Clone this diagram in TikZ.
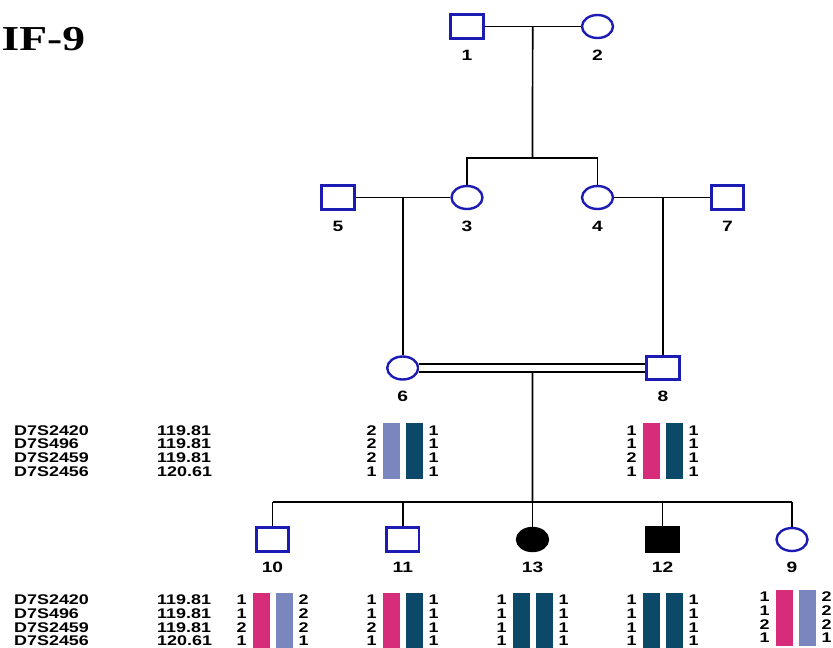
\documentclass[tikz,border=0pt]{standalone}
\usepackage{fontspec}
\setmainfont{Liberation Sans}[FakeStretch=1.28]
\newfontfamily\titlefont{Liberation Serif}[FakeStretch=1.3]
\usetikzlibrary{shapes.geometric,calc}
\definecolor{pedblue}{RGB}{28,28,180}
\definecolor{hpink}{RGB}{214,44,122}
\definecolor{hlav}{RGB}{122,134,190}
\definecolor{hdark}{RGB}{12,72,104}
\newcommand{\hapl}[6]{%
  \fill[#4] (#2-20,#3) rectangle (#2-3,#3+56);
  \fill[#5] (#2+3,#3) rectangle (#2+20,#3+56);
  \foreach \l/\r [count=\i from 0] in {#6} {
    \node[num] (#1l\i) at (#2-31,#3+7+13.7*\i) {\l};
    \node[num] (#1r\i) at (#2+31,#3+7+13.7*\i) {\r};
  }%
}
\begin{document}
\begin{tikzpicture}[x=1pt,y=-1pt,
  male/.style={draw=pedblue,line width=2.6pt,rectangle,minimum width=32.5pt,minimum height=23.5pt,inner sep=0pt},
  female/.style={draw=pedblue,line width=2.4pt,ellipse,minimum width=31pt,minimum height=23pt,inner sep=0pt},
  affm/.style={male,draw=black,fill=black},
  afff/.style={female,draw=black,fill=black},
  lbl/.style={font=\fontsize{15}{15}\selectfont\bfseries,inner sep=0pt},
  num/.style={font=\fontsize{14}{14}\selectfont\bfseries,inner sep=0pt},
  mk/.style={font=\fontsize{14}{14}\selectfont\bfseries,inner sep=0pt,anchor=west},
  pline/.style={line width=1.7pt}
]
\useasboundingbox (0,0) rectangle (833,648);
\clip (0,0) rectangle (833,648);

\node[font=\titlefont\fontsize{35}{35}\selectfont\bfseries,inner sep=0pt,anchor=west] (title) at (1.5,38.7) {IF-9};

% generation I
\node[male] (n1) at (467,26.5) {};
\node[female] (n2) at (597.5,26.5) {};
% generation II
\node[male] (n5) at (338,197.5) {};
\node[female] (n3) at (467,197.5) {};
\node[female] (n4) at (597.5,197.5) {};
\node[male] (n7) at (727.5,197.5) {};
% generation III
\node[female] (n6) at (402.7,368) {};
\node[male] (n8) at (663,368) {};
% generation IV
\node[male] (n10) at (272.5,539.5) {};
\node[male] (n11) at (402.8,539.5) {};
\node[afff] (n13) at (532.5,539.5) {};
\node[affm] (n12) at (662.5,539.5) {};
\node[female] (n9) at (792,539.5) {};

% labels
\foreach \n/\t in {n1/1,n2/2,n5/5,n3/3,n4/4,n7/7,n6/6,n8/8} {
  \node[lbl] (l\n) at ($(\n.center)+(0,28.5)$) {\t};
}
\foreach \n/\t in {n10/10,n11/11,n13/13,n12/12,n9/9} {
  \node[lbl] (l\n) at ($(\n.center)+(0,27.5)$) {\t};
}

% connectors
\draw[pline] (n1.east) -- (n2.west);
\coordinate (m12) at ($(n1.east)!0.5!(n2.west)$);
\coordinate (s1) at (532.5,158);
\draw[pline] (m12) -- (s1);
\draw[pline] (n3.north) -- (n3.north |- s1) -- (n4.north |- s1) -- (n4.north);

\draw[pline] (n5.east) -- (n3.west);
\coordinate (m53) at ($(n5.east)!0.5!(n3.west)$);
\draw[pline] (n6.north |- m53) -- (n6.north);

\draw[pline] (n4.east) -- (n7.west);
\coordinate (m47) at ($(n4.east)!0.5!(n7.west)$);
\draw[pline] (n8.north |- m47) -- (n8.north);

\draw[line width=1.4pt,double distance=6.6pt] (n6.east) -- (n8.west);
\coordinate (m68) at ($($(n6.east)!0.5!(n8.west)$)+(0,4)$);
\coordinate (s4) at (532.5,502);
\draw[pline] (m68) -- (s4);
\draw[pline] (n10.north |- s4) -- (n9.north |- s4);
\foreach \n in {n10,n11,n13,n12,n9} {
  \draw[pline] (\n.north |- s4) -- (\n.north);
}

% marker tables
\foreach \m/\p [count=\i from 0] in {D7S2420/119.81,D7S496/119.81,D7S2459/119.81,D7S2456/120.61} {
  \node[mk] (ma\i) at (14,430.3+13.7*\i) {\m};
  \node[mk] (pa\i) at (157,430.3+13.7*\i) {\p};
  \node[mk] (mb\i) at (14,600+13.7*\i) {\m};
  \node[mk] (pb\i) at (157,600+13.7*\i) {\p};
}

% haplotypes
\hapl{h6}{402.7}{423.3}{hlav}{hdark}{2/1,2/1,2/1,1/1}
\hapl{h8}{662.7}{423.3}{hpink}{hdark}{1/1,1/1,2/1,1/1}
\hapl{h10}{272.7}{593}{hpink}{hlav}{1/2,1/2,2/2,1/1}
\hapl{h11}{402.7}{593}{hpink}{hdark}{1/1,1/1,2/1,1/1}
\hapl{h13}{532.5}{593}{hdark}{hdark}{1/1,1/1,1/1,1/1}
\hapl{h12}{662.5}{593}{hdark}{hdark}{1/1,1/1,1/1,1/1}
\hapl{h9}{795.5}{590}{hpink}{hlav}{1/2,1/2,2/2,1/1}
\end{tikzpicture}
\end{document}
